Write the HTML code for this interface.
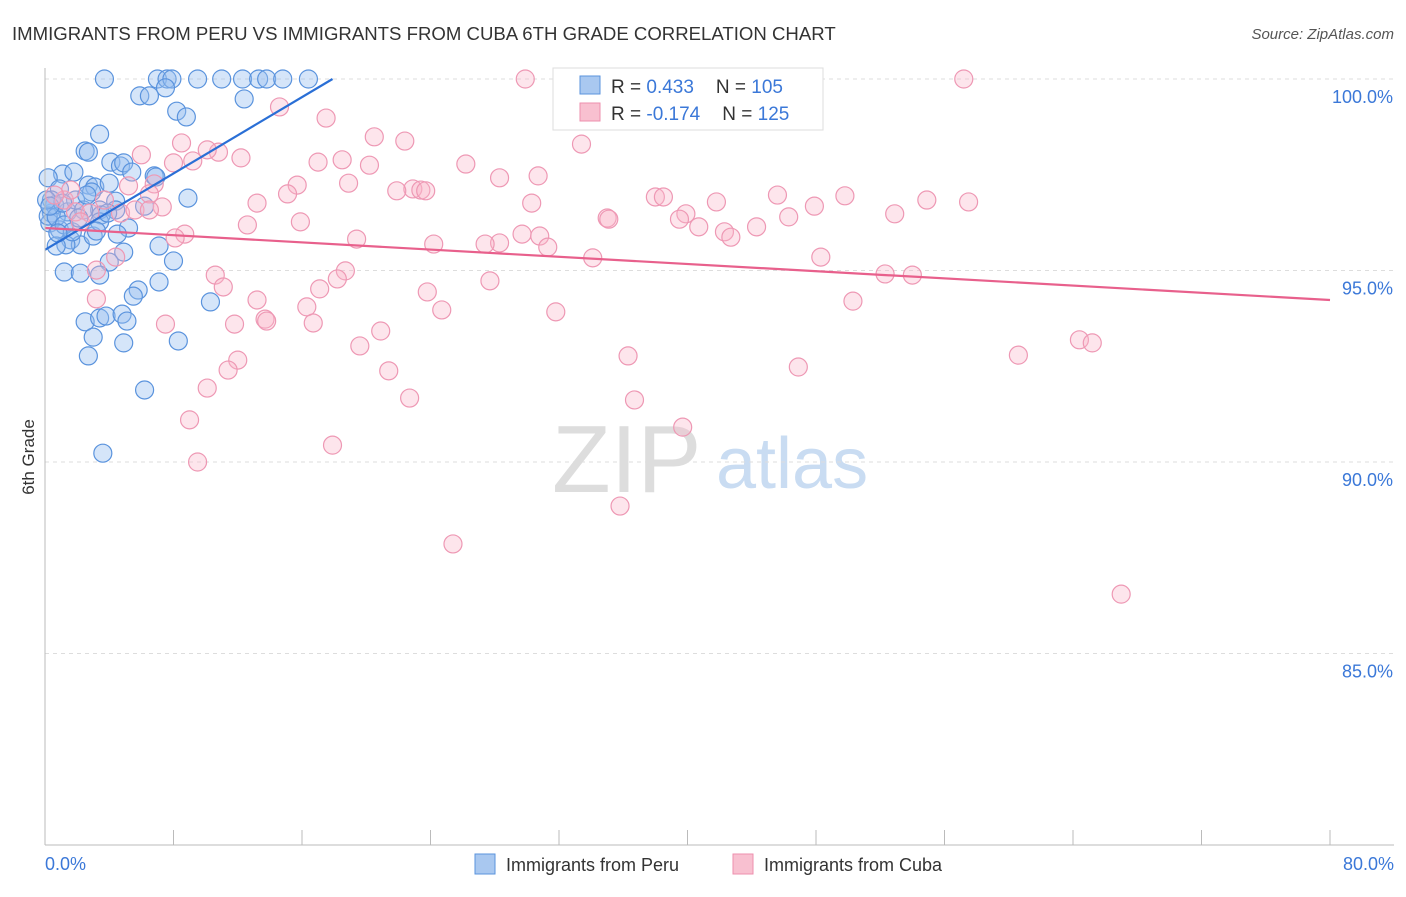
<!DOCTYPE html>
<html><head><meta charset="utf-8"><style>
body{margin:0;background:#fff;font-family:"Liberation Sans",sans-serif}
svg text{font-family:"Liberation Sans",sans-serif}
</style></head><body>
<svg id="c" width="1406" height="892">
<text x="12" y="40" font-size="18.6" fill="#333">IMMIGRANTS FROM PERU VS IMMIGRANTS FROM CUBA 6TH GRADE CORRELATION CHART</text>
<text x="1394" y="39" font-size="15" fill="#555" text-anchor="end" font-style="italic">Source: ZipAtlas.com</text>
<text x="34" y="457" font-size="17" fill="#333" text-anchor="middle" transform="rotate(-90 34 457)">6th Grade</text>
<text x="552" y="492" font-size="96" fill="#ddd" font-family="Liberation Serif">ZIP</text>
<text x="716" y="488" font-size="72" fill="#c9dcf2">atlas</text>
<g id="grid"></g><g id="pts"></g><g id="trend"></g>
<line x1="45" y1="68" x2="45" y2="845" stroke="#bbb"/>
<line x1="45" y1="845" x2="1394" y2="845" stroke="#bbb"/>
<text x="45" y="870" font-size="18" fill="#3b78d8">0.0%</text>
<text x="1394" y="870" font-size="18" fill="#3b78d8" text-anchor="end">80.0%</text>
<g>
<rect x="553" y="68" width="270" height="62" fill="#fff" stroke="#ddd"/>
<rect x="580" y="76" width="20" height="18" fill="#a9c8f0" stroke="#5a93dd"/>
<rect x="580" y="103" width="20" height="18" fill="#f8c0d0" stroke="#ee8fae"/>
<text x="611" y="93" font-size="19" fill="#333">R = <tspan fill="#3b78d8">0.433</tspan><tspan dx="22">N = </tspan><tspan fill="#3b78d8">105</tspan></text>
<text x="611" y="120" font-size="19" fill="#333">R = <tspan fill="#3b78d8">-0.174</tspan><tspan dx="22">N = </tspan><tspan fill="#3b78d8">125</tspan></text>
</g>
<g><rect x="475" y="854" width="20" height="20" fill="#a9c8f0" stroke="#5a93dd"/><text x="506" y="871" font-size="18" fill="#333">Immigrants from Peru</text></g>
<g><rect x="733" y="854" width="20" height="20" fill="#f8c0d0" stroke="#ee8fae"/><text x="764" y="871" font-size="18" fill="#333">Immigrants from Cuba</text></g>
</svg>
<script>
const yTicks=[100,95,90,85];
const yTickLabels=["100.0%","95.0%","90.0%","85.0%"];
const xTicks=[0,8,16,24,32,40,48,56,64,72,80];
const peruX=[3.7,7.0,7.6,7.9,9.5,11.0,12.3,13.3,13.8,14.8,16.4,5.9,6.5,7.5,12.4,8.2,8.8,3.4,2.5,2.7,4.1,4.7,4.9,5.4,6.8,6.9,1.1,1.8,0.2,2.7,3.1,4.0,2.9,0.9,8.9,6.2,4.4,4.4,3.4,5.2,3.5,1.4,0.4,0.6,0.3,0.9,1.6,2.2,3.0,1.3,0.7,4.5,7.1,4.9,4.0,8.0,1.2,2.2,3.4,7.1,5.8,5.5,10.3,2.5,3.4,3.8,4.8,5.1,3.0,4.9,8.3,2.7,6.2,3.6,0.4,0.2,0.7,1.9,2.4,1.2,1.7,3.4,1.1,2.1,0.1,0.3,0.8,2.6,3.9,3.2];
const peruY=[100,100,100,100,100,100,100,100,100,100,100,99.56,99.56,99.77,99.48,99.16,99.01,98.56,98.12,98.09,97.83,97.73,97.81,97.57,97.47,97.44,97.52,97.57,97.42,97.23,97.18,97.28,97.05,97.13,96.89,96.68,96.81,96.58,96.58,96.11,96.45,96.53,96.50,96.71,96.24,96.06,95.80,95.67,95.90,95.67,95.64,95.95,95.64,95.48,95.22,95.25,94.96,94.93,94.88,94.70,94.49,94.33,94.18,93.66,93.76,93.81,93.86,93.68,93.26,93.11,93.16,92.77,91.88,90.23,96.84,96.42,96.40,96.84,96.58,96.19,96.01,96.27,96.76,96.37,96.84,96.68,95.98,96.97,96.50,96.03];
const cubaX=[29.9,57.2,14.6,17.5,8.5,20.5,22.4,33.4,6.0,12.2,8.0,9.2,10.8,10.1,17.0,18.5,20.2,26.2,30.7,28.3,6.8,5.2,15.7,18.9,22.9,21.9,23.4,23.7,15.1,13.2,6.5,7.3,30.3,38.0,38.5,45.6,49.8,54.9,57.5,41.8,47.9,52.9,35.0,35.1,46.3,39.9,39.5,40.7,42.3,42.7,44.3,29.7,30.8,31.3,28.3,27.4,24.2,19.4,12.6,15.9,8.7,8.1,34.1,48.3,52.3,54.0,10.6,11.1,18.7,18.2,17.1,27.7,23.8,3.2,4.4,3.2,13.2,16.3,24.7,31.8,50.3,7.5,11.8,13.7,13.8,16.7,20.9,19.6,64.4,65.2,60.6,36.3,12.0,11.4,21.4,46.9,10.1,22.7,36.7,9.0,39.7,17.9,9.5,35.8,25.4,67.0,1.2,1.9,2.8,3.7,4.7,5.6,1.6,2.2,0.6,6.5];
const cubaY=[100,100,99.27,98.98,98.33,98.49,98.38,98.30,98.02,97.94,97.81,97.86,98.09,98.15,97.83,97.89,97.75,97.78,97.47,97.42,97.26,97.21,97.23,97.28,97.13,97.08,97.10,97.08,97.00,96.76,97.00,96.66,96.76,96.92,96.92,96.97,96.95,96.84,96.79,96.79,96.68,96.48,96.37,96.34,96.40,96.48,96.34,96.14,96.01,95.87,96.14,95.95,95.90,95.61,95.72,95.69,95.69,95.82,96.19,96.27,95.95,95.85,95.33,95.35,94.91,94.88,94.88,94.57,94.99,94.78,94.52,94.73,94.44,95.01,95.35,94.26,94.23,94.05,93.97,93.92,94.20,93.60,93.60,93.73,93.68,93.63,93.42,93.03,93.19,93.11,92.79,92.77,92.66,92.40,92.38,92.48,91.93,91.67,91.62,91.10,90.91,90.44,90.00,88.85,87.86,86.55,96.84,96.53,96.50,96.84,96.50,96.58,97.10,96.27,96.97,96.58];
const peruTrendX=[0,17.9];
const peruTrendY=[95.54,100];
const cubaTrendX=[0,80];
const cubaTrendY=[96.11,94.23];
const NS="http://www.w3.org/2000/svg";
function sx(v){return 45+v*(1285/80);}
function sy(v){return 79+(100-v)*38.3;}
function mk(tag,attrs,parent){const e=document.createElementNS(NS,tag);for(const k in attrs)e.setAttribute(k,attrs[k]);parent.appendChild(e);return e;}
const grid=document.getElementById('grid');
yTicks.forEach((t,i)=>{
 const l=mk('line',{x1:45,x2:1394,y1:sy(t),y2:sy(t),stroke:'#ddd','stroke-dasharray':'4,4'},grid);
 
 
 const tx=mk('text',{x:1393,y:sy(t)+24,'font-size':18,fill:'#3b78d8','text-anchor':'end'},grid);
 tx.textContent=yTickLabels[i];
 
 
});
xTicks.forEach(t=>{
 const l=mk('line',{x1:sx(t),x2:sx(t),y1:845,y2:830,stroke:'#bbb'},grid);
 
 
});
const pts=document.getElementById('pts');
peruX.forEach((x,i)=>{
 const c=mk('circle',{cx:sx(x),cy:sy(peruY[i]),r:9,fill:'rgba(150,190,240,0.4)',stroke:'#5a93dd','stroke-width':1.2},pts);
 
 
});
cubaX.forEach((x,i)=>{
 const c=mk('circle',{cx:sx(x),cy:sy(cubaY[i]),r:9,fill:'rgba(248,180,200,0.35)',stroke:'#ee98b4','stroke-width':1.2},pts);
 
 
});
const tr=document.getElementById('trend');
const l1=mk('line',{x1:sx(peruTrendX[0]),y1:sy(peruTrendY[0]),x2:sx(peruTrendX[1]),y2:sy(peruTrendY[1]),stroke:'#2a6fd6','stroke-width':2.2},tr);


const l2=mk('line',{x1:sx(cubaTrendX[0]),y1:sy(cubaTrendY[0]),x2:sx(cubaTrendX[1]),y2:sy(cubaTrendY[1]),stroke:'#e8608c','stroke-width':2.2},tr);


</script>
</body></html>
